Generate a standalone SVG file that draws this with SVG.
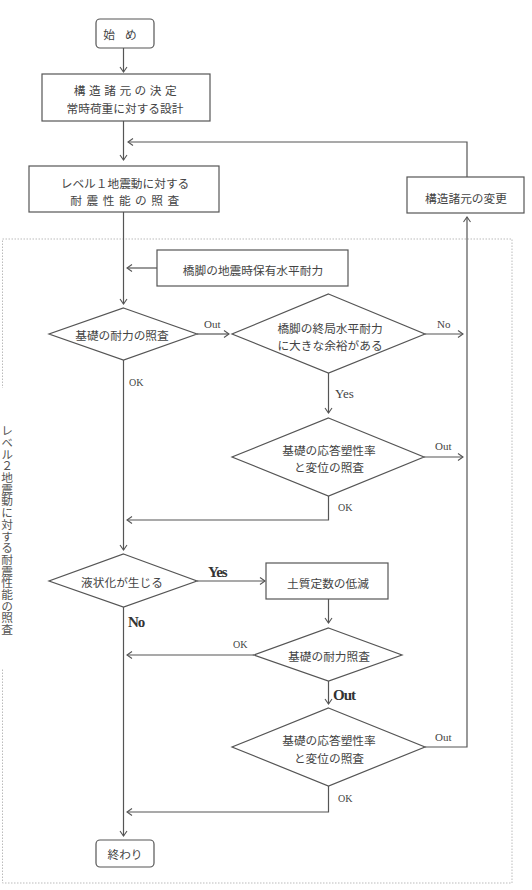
<svg xmlns="http://www.w3.org/2000/svg" width="532" height="890" viewBox="0 0 532 890">
<style>
.n{fill:#fff;stroke:#555;stroke-width:1.2}
.t{font-family:"Noto Sans CJK JP","Noto Sans",sans-serif;font-size:11.7px;fill:#444;text-anchor:middle;dominant-baseline:central}
.l{font-family:"Liberation Serif",serif;font-size:11px;fill:#444;text-anchor:start}
.b{font-family:"Liberation Serif",serif;font-size:15px;font-weight:bold;fill:#333;text-anchor:start;letter-spacing:-1px}
.c{fill:none;stroke:#555;stroke-width:1.2}
</style>
<defs>
<marker id="a" markerUnits="userSpaceOnUse" markerWidth="10" markerHeight="10" viewBox="-6 -5 7 10" refX="0" refY="0" orient="auto">
<path d="M-5,-3.5 L0,0 L-5,3.5" fill="none" stroke="#555" stroke-width="1.1"/>
</marker>
</defs>
<rect x="2.5" y="239" width="509.5" height="644" fill="none" stroke="#aaa" stroke-width="0.8" stroke-dasharray="1.5,1.5"/>
<rect x="0" y="388" width="16" height="281" fill="#fff"/>
<text x="7" y="425" style="font-family:'Noto Sans CJK JP',sans-serif;font-size:11.7px;fill:#555;writing-mode:vertical-rl;text-orientation:upright">レベル２地震動に対する耐震性能の照査</text>
<g id="connectors">
<path class="c" d="M123.5,48 V72" marker-end="url(#a)"/>
<path class="c" d="M123.5,121 V160" marker-end="url(#a)"/>
<path class="c" d="M467,177 V142 H128" marker-end="url(#a)"/>
<path class="c" d="M123.5,212 V304" marker-end="url(#a)"/>
<path class="c" d="M157,268 H127" marker-end="url(#a)"/>
<path class="c" d="M123.5,360 V550" marker-end="url(#a)"/>
<path class="c" d="M197,334 H229" marker-end="url(#a)"/>
<path class="c" d="M425,334 H463" marker-end="url(#a)"/>
<path class="c" d="M328.5,373 V413" marker-end="url(#a)"/>
<path class="c" d="M424,457 H463" marker-end="url(#a)"/>
<path class="c" d="M328.5,496 V520 H127" marker-end="url(#a)"/>
<path class="c" d="M197,581 H265" marker-end="url(#a)"/>
<path class="c" d="M328.5,599 V623" marker-end="url(#a)"/>
<path class="c" d="M254,655 H127" marker-end="url(#a)"/>
<path class="c" d="M328.5,681 V704" marker-end="url(#a)"/>
<path class="c" d="M425,747 H467 V217" marker-end="url(#a)"/>
<path class="c" d="M328.5,786 V812 H127" marker-end="url(#a)"/>
<path class="c" d="M123.5,607 V836" marker-end="url(#a)"/>
<text class="l" x="204" y="328">Out</text>
<text class="l" x="437" y="328">No</text>
<text class="l" x="129" y="386" style="font-size:10px">OK</text>
<text class="l" x="335" y="398" style="font-size:13px">Yes</text>
<text class="l" x="435" y="450">Out</text>
<text class="l" x="338" y="511" style="font-size:10px">OK</text>
<text class="b" x="208" y="577">Yes</text>
<text class="b" x="128" y="627">No</text>
<text class="l" x="233" y="648" style="font-size:10px">OK</text>
<text class="b" x="333" y="700">Out</text>
<text class="l" x="435" y="741">Out</text>
<text class="l" x="338" y="802" style="font-size:10px">OK</text>
</g>
<g id="start"><rect class="n" x="96" y="19" width="58" height="29" rx="4"/><text class="t" x="125" y="33" style="letter-spacing:10px">始め</text></g>
<g id="decide"><rect class="n" x="42" y="74" width="168" height="47"/><text class="t" x="127" y="89" style="letter-spacing:3.5px">構造諸元の決定</text><text class="t" x="125" y="107">常時荷重に対する設計</text></g>
<g id="level1"><rect class="n" x="29" y="166" width="190" height="46"/><text class="t" x="125" y="182">レベル１地震動に対する</text><text class="t" x="127" y="199" style="letter-spacing:4.5px">耐震性能の照査</text></g>
<g id="change"><rect class="n" x="407" y="177" width="117" height="36"/><text class="t" x="466" y="197">構造諸元の変更</text></g>
<g id="pierCap"><rect class="n" x="157" y="250" width="191" height="36"/><text class="t" x="253" y="269">橋脚の地震時保有水平耐力</text></g>
<g id="d1"><path class="n" d="M123.5,308 L197,334 L123.5,360 L49,334 Z"/><text class="t" x="122" y="334">基礎の耐力の照査</text></g>
<g id="d2"><path class="n" d="M328.5,294 L425,334 L328.5,373 L232,334 Z"/><text class="t" x="330" y="327">橋脚の終局水平耐力</text><text class="t" x="330" y="344">に大きな余裕がある</text></g>
<g id="d3"><path class="n" d="M328.5,418 L424,457 L328.5,496 L232,457 Z"/><text class="t" x="329" y="449">基礎の応答塑性率</text><text class="t" x="329" y="466">と変位の照査</text></g>
<g id="d4"><path class="n" d="M123.5,554 L197,581 L123.5,607 L49,581 Z"/><text class="t" x="122" y="581">液状化が生じる</text></g>
<g id="soil"><rect class="n" x="266" y="563" width="122" height="36"/><text class="t" x="328" y="582">土質定数の低減</text></g>
<g id="d5"><path class="n" d="M328.5,628 L402,655 L328.5,681 L254,655 Z"/><text class="t" x="329" y="655">基礎の耐力照査</text></g>
<g id="d6"><path class="n" d="M328.5,708 L425,747 L328.5,786 L232,747 Z"/><text class="t" x="329" y="739">基礎の応答塑性率</text><text class="t" x="329" y="757">と変位の照査</text></g>
<g id="end"><rect class="n" x="96" y="840" width="58" height="27" rx="4"/><text class="t" x="125" y="853">終わり</text></g>
</svg>
